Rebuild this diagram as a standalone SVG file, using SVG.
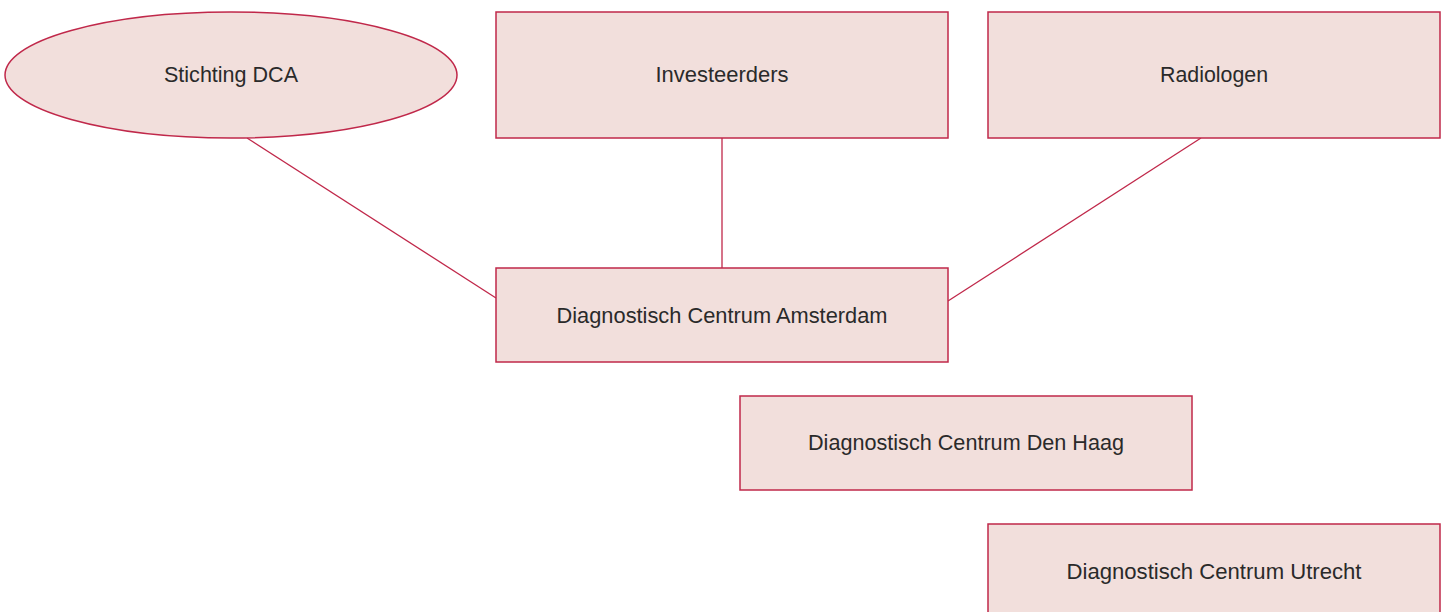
<svg xmlns="http://www.w3.org/2000/svg" width="1445" height="612" viewBox="0 0 1445 612">
<style>
.n{fill:#f2dfdc;stroke:#c0284a;stroke-width:1.5}
.t{font-family:"Liberation Sans",Arial,sans-serif;font-size:22px;fill:#2a2a2a;text-anchor:middle}
.c{stroke:#c0284a;stroke-width:1.3;fill:none}
</style>
<rect width="1445" height="612" fill="#fff"/>
<g id="connectors">
<line class="c" x1="247" y1="138" x2="496" y2="298"/>
<line class="c" x1="722" y1="138" x2="722" y2="268"/>
<line class="c" x1="1201" y1="138" x2="948" y2="301"/>
</g>
<g id="stichting"><ellipse class="n" cx="231" cy="75" rx="226" ry="63"/><text class="t" x="231" y="82" textLength="134" lengthAdjust="spacingAndGlyphs">Stichting DCA</text></g>
<g id="investeerders"><rect class="n" x="496" y="12" width="452" height="126"/><text class="t" x="722" y="82" textLength="133" lengthAdjust="spacingAndGlyphs">Investeerders</text></g>
<g id="radiologen"><rect class="n" x="988" y="12" width="452" height="126"/><text class="t" x="1214" y="82" textLength="108" lengthAdjust="spacingAndGlyphs">Radiologen</text></g>
<g id="amsterdam"><rect class="n" x="496" y="268" width="452" height="94"/><text class="t" x="722" y="323" textLength="331" lengthAdjust="spacingAndGlyphs">Diagnostisch Centrum Amsterdam</text></g>
<g id="denhaag"><rect class="n" x="740" y="396" width="452" height="94"/><text class="t" x="966" y="450" textLength="316" lengthAdjust="spacingAndGlyphs">Diagnostisch Centrum Den Haag</text></g>
<g id="utrecht"><rect class="n" x="988" y="524" width="452" height="100"/><text class="t" x="1214" y="579" textLength="295" lengthAdjust="spacingAndGlyphs">Diagnostisch Centrum Utrecht</text></g>
</svg>
